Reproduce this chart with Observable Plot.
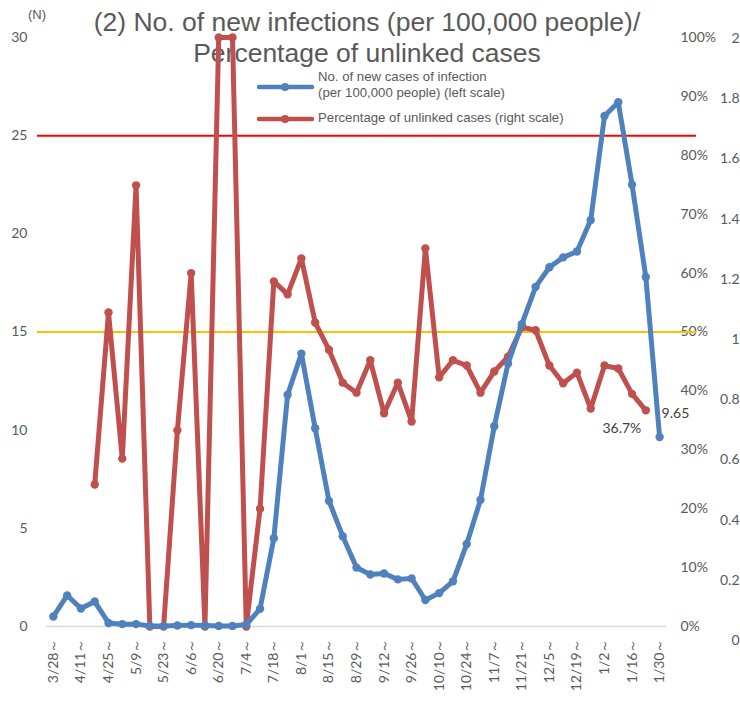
<!DOCTYPE html>
<html>
<head>
<meta charset="utf-8">
<script src="https://cdn.jsdelivr.net/npm/d3@7"></script>
<script src="https://cdn.jsdelivr.net/npm/@observablehq/plot@0.6"></script>
<style>
  body { margin: 0; background: #fff; }
  #wrap { position: relative; width: 740px; height: 705px; overflow: hidden; background: #fff; }
  #chart { position: absolute; left: 0; top: 0; }
  #title { position: absolute; left: 0; width: 734px; top: 7px; text-align: center;
    font-family: "Liberation Sans", Arial, sans-serif; font-size: 26.5px; line-height: 31px; color: #595959; pointer-events: none; }
  .leg { position: absolute; font-family: "Liberation Sans", Arial, sans-serif; font-size: 13.2px; line-height: 16px; color: #595959; }
  #unitN { position: absolute; left: 28px; top: 7px; font-family: "Liberation Sans", Arial, sans-serif; font-size: 13px; color: #595959; }
</style>
</head>
<body>
<div id="wrap">
  <div id="title">(2) No. of new infections (per 100,000 people)/<br>Percentage of unlinked cases</div>
  <div id="chart"></div>
  <div id="unitN">(N)</div>
  <svg style="position:absolute;left:255px;top:78px" width="62" height="50">
    <line x1="4" y1="9" x2="57" y2="9" stroke="#4F81BD" stroke-width="4.5" stroke-linecap="round"/>
    <circle cx="30" cy="9" r="4" fill="#4F81BD"/>
    <line x1="4" y1="41" x2="57" y2="41" stroke="#C0504D" stroke-width="4.5" stroke-linecap="round"/>
    <circle cx="30" cy="41" r="4" fill="#C0504D"/>
  </svg>
  <div class="leg" style="left:318px;top:69px">No. of new cases of infection<br>(per 100,000 people) (left scale)</div>
  <div class="leg" style="left:318px;top:110px">Percentage of unlinked cases (right scale)</div>
</div>
<script>
// Weekly categories (week starting)
const weeks = ["3/28","4/4","4/11","4/18","4/25","5/2","5/9","5/16","5/23","5/30","6/6","6/13","6/20","6/27","7/4","7/11","7/18","7/25","8/1","8/8","8/15","8/22","8/29","9/5","9/12","9/19","9/26","10/3","10/10","10/17","10/24","10/31","11/7","11/14","11/21","11/28","12/5","12/12","12/19","12/26","1/2","1/9","1/16","1/23","1/30"];

// New cases per 100,000 people (left scale)
const newCases = [0.51,1.58,0.92,1.27,0.18,0.12,0.12,0.03,0.02,0.05,0.07,0.05,0.03,0.03,0.1,0.9,4.5,11.8,13.9,10.1,6.4,4.6,3.0,2.65,2.7,2.4,2.45,1.35,1.7,2.3,4.2,6.45,10.2,13.4,15.4,17.3,18.3,18.8,19.1,20.7,26.0,26.7,22.5,17.8,9.65];

// Percentage of unlinked cases (right scale, %)
const unlinkedPct = [null,null,null,24.1,53.3,28.5,74.9,0,0,33.3,60,0,100,100,0,20,58.6,56.4,62.5,51.6,47,41.4,39.7,45.2,36.2,41.4,34.8,64.2,42.3,45.2,44.3,39.7,43.3,45.8,50.8,50.3,44.3,41.3,43.1,37,44.3,43.8,39.5,36.7,null];

const leftTicks = [0,5,10,15,20,25,30];
const pctTicks = [0,10,20,30,40,50,60,70,80,90,100];
const ratioTicks = [0,0.2,0.4,0.6,0.8,1,1.2,1.4,1.6,1.8,2];
const xTickLabels = weeks.filter((d, i) => i % 2 === 0);
const refLines = [{value: 25, color: "#FF0000"}, {value: 15, color: "#FFC000"}];
const lastCaseLabel = "9.65";
const lastPctLabel = "36.7%";

const blue = "#4F81BD", red = "#C0504D";
const pctToLeft = p => p / 100 * 30;
const ratioToLeft = d3.scaleLinear([0, 2], [-0.713, 29.95]);

const rowsCases = weeks.map((w, i) => ({w, v: newCases[i]}));
const rowsPct = weeks.map((w, i) => ({w, v: unlinkedPct[i] == null ? NaN : pctToLeft(unlinkedPct[i])}));

const font = "Lato, 'Open Sans', sans-serif";

const chart = Plot.plot({
  width: 740,
  height: 705,
  marginTop: 37,
  marginBottom: 79,
  marginLeft: 46,
  marginRight: 74,
  style: {fontFamily: font, fontSize: "14px", color: "#595959", background: "transparent", overflow: "visible"},
  x: {type: "point", domain: weeks, padding: 0.5},
  y: {domain: [0, 30]},
  marks: [
    Plot.ruleY([0], {stroke: "#D9D9D9", strokeWidth: 1.5}),
    Plot.axisY({ticks: leftTicks, tickSize: 0, tickPadding: 19, label: null, fontSize: 14, fill: "#595959"}),
    Plot.axisY({anchor: "right", ticks: pctTicks.map(pctToLeft), tickFormat: d => Math.round(d / 30 * 100) + "%", tickSize: 0, tickPadding: 14, label: null, fontSize: 14, fill: "#595959"}),
    Plot.axisY({anchor: "right", ticks: ratioTicks.map(ratioToLeft), tickFormat: d => String(+ratioToLeft.invert(d).toFixed(1)), tickSize: 0, tickPadding: 73, textAnchor: "end", label: null, fontSize: 14, fill: "#595959"}),
    Plot.axisX({ticks: xTickLabels, tickFormat: d => d + "～", tickRotate: -90, tickSize: 0, tickPadding: 12, label: null, fontSize: 14, fill: "#595959"}),
    ...refLines.map(r => Plot.ruleY([r.value], {stroke: r.color, strokeWidth: 2, insetLeft: -9, insetRight: -30})),
    Plot.line(rowsPct, {x: "w", y: "v", stroke: red, strokeWidth: 5, strokeLinejoin: "round", curve: "linear"}),
    Plot.dot(rowsPct.filter(d => !isNaN(d.v)), {x: "w", y: "v", r: 4.2, fill: red}),
    Plot.line(rowsCases, {x: "w", y: "v", stroke: blue, strokeWidth: 5, strokeLinejoin: "round"}),
    Plot.dot(rowsCases, {x: "w", y: "v", r: 4.2, fill: blue}),
    Plot.text([rowsCases[rowsCases.length - 1]], {x: "w", y: "v", text: () => lastCaseLabel, dx: 2, dy: -24, textAnchor: "start", fontSize: 14, fill: "#404040"}),
    Plot.text([rowsPct[rowsPct.length - 2]], {x: "w", y: "v", text: () => lastPctLabel, dx: -24, dy: 18, textAnchor: "middle", fontSize: 14, fill: "#404040"})
  ]
});
document.getElementById("chart").appendChild(chart);
</script>
</body>
</html>
